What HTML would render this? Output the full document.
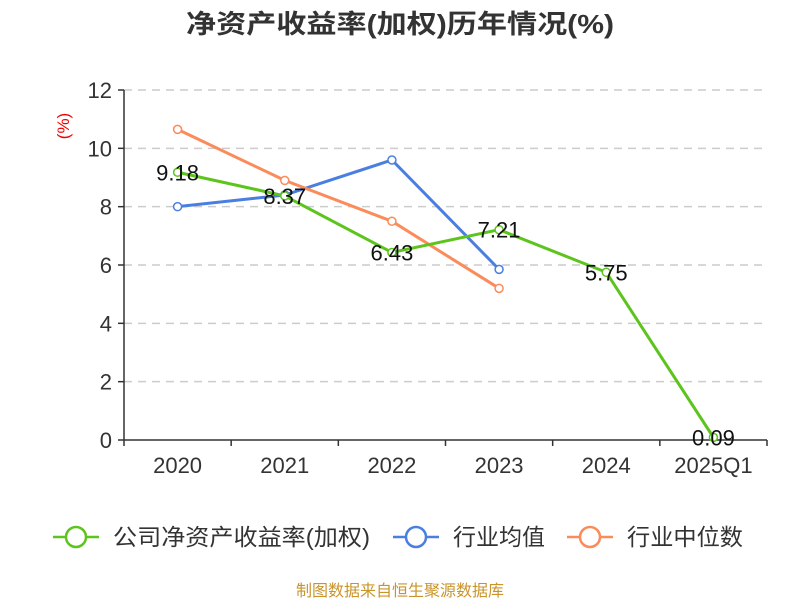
<!DOCTYPE html>
<html><head><meta charset="utf-8"><style>
body{margin:0;background:#fff;}
svg{display:block;font-family:"Liberation Sans","Noto Sans CJK SC",sans-serif;}
</style></head><body>
<svg id="c" width="800" height="600">
<text x="400" y="33" text-anchor="middle" font-size="26" font-weight="bold" fill="#333" textLength="428" lengthAdjust="spacingAndGlyphs">净资产收益率(加权)历年情况(%)</text>
<text transform="translate(69,126) rotate(-90)" text-anchor="middle" font-size="17" fill="#e00">(%)</text>
<g id="grid"></g><g id="axes"></g><g id="series"></g>
<g id="legend"></g>
<text x="400" y="596" text-anchor="middle" font-size="16" fill="#c9952b">制图数据来自恒生聚源数据库</text>
</svg>
<script>
const categories=["2020","2021","2022","2023","2024","2025Q1"];
const yTicks=[0,2,4,6,8,10,12];
const companyVals=[9.18,8.37,6.43,7.21,5.75,0.09];
const industryAvg=[8.0,8.4,9.6,5.85];
const industryMed=[10.65,8.9,7.5,5.2];
const NS="http://www.w3.org/2000/svg";
const x0=124,x1=767,y0=440,y1=90,band=(x1-x0)/categories.length;
const X=i=>x0+band*(i+0.5);
const Y=v=>y0-(v/12)*(y0-y1);
function mk(t,a,p){const e=document.createElementNS(NS,t);for(const k in a)e.setAttribute(k,a[k]);p.appendChild(e);return e;}
const g=document.getElementById('grid'),ax=document.getElementById('axes'),s=document.getElementById('series'),lg=document.getElementById('legend');
yTicks.forEach(v=>{
 if(v>0){const l=mk('line',{x1:x0,x2:x1,y1:Y(v),y2:Y(v),stroke:'#ccc','stroke-dasharray':'8,6','stroke-width':1.5},g);
 }
 mk('line',{x1:x0-6,x2:x0,y1:Y(v),y2:Y(v),stroke:'#333','stroke-width':1.5},ax);
 const t=mk('text',{x:x0-12,y:Y(v)+8,'text-anchor':'end','font-size':22,fill:'#333'},ax);t.textContent=v;
 
});
mk('line',{x1:x0,x2:x0,y1:y1,y2:y0,stroke:'#333','stroke-width':1.5},ax);
mk('line',{x1:x0,x2:x1,y1:y0,y2:y0,stroke:'#333','stroke-width':1.5},ax);
categories.forEach((c,i)=>{
 mk('line',{x1:x0+band*i,x2:x0+band*i,y1:y0,y2:y0+6,stroke:'#333','stroke-width':1.5},ax);
 const t=mk('text',{x:X(i),y:y0+33,'text-anchor':'middle','font-size':22,fill:'#333'},ax);t.textContent=c;
 
});
mk('line',{x1:x1,x2:x1,y1:y0,y2:y0+6,stroke:'#333','stroke-width':1.5},ax);
function series(vals,color,name,labels){
 const p=mk('polyline',{points:vals.map((v,i)=>X(i)+','+Y(v)).join(' '),fill:'none',stroke:color,'stroke-width':3},s);
 
 vals.forEach((v,i)=>{
  const c=mk('circle',{cx:X(i),cy:Y(v),r:4,fill:'#fff',stroke:color,'stroke-width':1.5},s);
  
  if(labels){const t=mk('text',{x:X(i),y:Y(v)+8,'text-anchor':'middle','font-size':22,fill:'#111'},s);t.textContent=v.toFixed(2);
  }
 });
}
series(industryAvg,'#4a7fe0','industry-average',false);
series(industryMed,'#fb8b5a','industry-median',false);
series(companyVals,'#5cc41c','company-roe',true);
const items=[['公司净资产收益率(加权)','#5cc41c',53,257],['行业均值','#4a7fe0',393,92],['行业中位数','#fb8b5a',567,116]];
items.forEach(([n,c,x,w])=>{
 const gi=mk('g',{},lg);
 mk('line',{x1:x,x2:x+46,y1:537,y2:537,stroke:c,'stroke-width':2.5},gi);
 mk('circle',{cx:x+23,cy:537,r:10,fill:'#fff',stroke:c,'stroke-width':2.5},gi);
 const t=mk('text',{x:x+60,y:545,'font-size':23,fill:'#333',textLength:w,lengthAdjust:'spacingAndGlyphs'},gi);t.textContent=n;
});
</script>
</body></html>
